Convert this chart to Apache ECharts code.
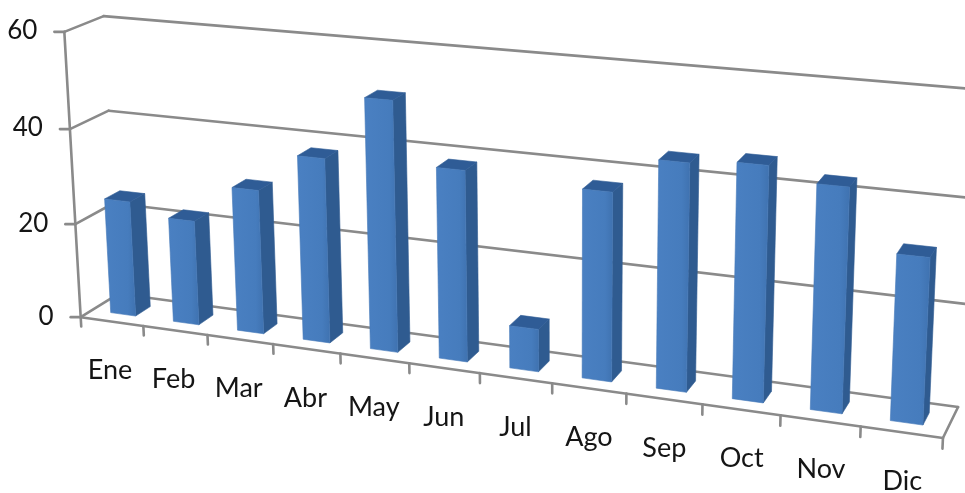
<!DOCTYPE html>
<html><head><meta charset="utf-8">
<style>html,body{margin:0;padding:0;background:#fff}#c{width:965px;height:493px}</style>
<script src="https://cdn.jsdelivr.net/npm/echarts@6/dist/echarts.min.js"></script>
</head><body><div id="c"></div>
<script>
const months = ['Ene','Feb','Mar','Abr','May','Jun','Jul','Ago','Sep','Oct','Nov','Dic'];
const values = [24.5,22,30,38,51,38.6,8.6,37.4,44.5,45.5,43,31.6];
const yTicks = [0,20,40,60];

// Camera of the tilted 3D box: frame anchors (u along months, d depth, v height) -> screen
const anchors = [
 [0,0,0,80,317],[1,0,0,943,438],[0,1,0,119,294],[1,1,0,958,407],
 [0,1,1,103,16],[1,1,1,973,89],[0,0,1,65,32]
];
function solveCamera(pts){
  const rows=[],rhs=[];
  pts.forEach(([u,d,v,x0,y0])=>{
    const x=x0/1000,y=y0/1000;
    rows.push([u,d,v,1,0,0,0,0,-x*u,-x*d,-x*v]);rhs.push(x);
    rows.push([0,0,0,0,u,d,v,1,-y*u,-y*d,-y*v]);rhs.push(y);
  });
  const n=11,M=[];
  for(let i=0;i<n;i++){M.push(new Array(n+1).fill(0));
    for(let j=0;j<n;j++)rows.forEach(r=>M[i][j]+=r[i]*r[j]);
    rows.forEach((r,k)=>M[i][n]+=r[i]*rhs[k]);
    M[i][i]+=1e-9;}
  for(let i=0;i<n;i++){let b=i;for(let k=i+1;k<n;k++)if(Math.abs(M[k][i])>Math.abs(M[b][i]))b=k;
    [M[i],M[b]]=[M[b],M[i]];
    for(let k=0;k<n;k++){if(k===i)continue;const f=M[k][i]/M[i][i];for(let j=i;j<=n;j++)M[k][j]-=f*M[i][j];}}
  return M.map((r,i)=>r[n]/r[i]);
}
const P=solveCamera(anchors);
function proj(u,d,v){
  const w=P[8]*u+P[9]*d+P[10]*v+1;
  return [1000*(P[0]*u+P[1]*d+P[2]*v+P[3])/w,1000*(P[4]*u+P[5]*d+P[6]*v+P[7])/w];
}
const lineStyle={stroke:'#8a8a8a',lineWidth:2.6,lineCap:'round',lineJoin:'round'};
const line=(a,b)=>({type:'line',shape:{x1:a[0],y1:a[1],x2:b[0],y2:b[1]},style:lineStyle});
const poly=(pts,fill,edge)=>({type:'polygon',shape:{points:pts},style:{fill:fill,stroke:edge,lineWidth:0.6}});
const frac=(cs,pt)=>[(pt[0]-cs.x)/cs.width,(cs.y+cs.height-pt[1])/cs.height];

function renderWall(params,api){
  const cs=params.coordSys,val=api.value(1),v=frac(cs,api.coord([0,val]))[1];
  const p=proj(0,0,v);
  const kids=[line(p,proj(0,1,v)),line(proj(0,1,v),proj(val===0?1:1.02,1,v)),line(p,[p[0]-10,p[1]])];
  kids.push({type:'text',style:{text:String(val),x:p[0]-27,y:p[1]-1,align:'right',verticalAlign:'middle',font:'26px Lato',fill:'#151515'}});
  return {type:'group',children:kids};
}
function renderFloor(params,api){
  const cs=params.coordSys,i=api.value(0);
  const band=api.size([1,0])[0]/cs.width;
  const uc=frac(cs,api.coord([i,0]))[0],u1=uc+band/2;
  const kids=[line(proj(u1,0,0),proj(u1,0,-0.034))];
  if(i===0){kids.push(line(proj(0,0,0),proj(1,0,0)),line(proj(1,0,0),proj(1,1,0)),line(proj(0,0,0),proj(0,0,-0.034)),line(proj(0,0,1),proj(0,0,0)));}
  const p=proj(uc,0,0);
  kids.push({type:'text',style:{text:api.value(2),x:p[0]-2+3*uc,y:p[1]+49,align:'center',verticalAlign:'middle',font:'27px Lato',fill:'#151515'}});
  return {type:'group',children:kids};
}
function renderBar(params,api){
  const cs=params.coordSys,i=api.value(0);
  const band=api.size([1,0])[0]/cs.width,hw=band*0.2;
  const uc=frac(cs,api.coord([i,0]))[0];
  const h=frac(cs,api.coord([i,api.value(1)]))[1];
  const a=uc-hw,b=uc+hw,d0=0.3,d1=0.7;
  const f=[proj(a,d0,0),proj(b,d0,0),proj(b,d0,h),proj(a,d0,h)];
  const s=[proj(b,d0,0),proj(b,d1,0),proj(b,d1,h),proj(b,d0,h)];
  const t=[proj(a,d0,h),proj(b,d0,h),proj(b,d1,h),proj(a,d1,h)];
  const grad={type:'linear',x:0,y:0,x2:1,y2:0,colorStops:[{offset:0,color:'#4a80c2'},{offset:0.75,color:'#467cbd'},{offset:1,color:'#3f72b0'}]};
  return {type:'group',children:[poly(s,'#2f5b90','#2f5b90'),poly(t,'#2f5c96','#2f5c96'),poly(f,grad,'#4478b8')]};
}
const chart=echarts.init(document.getElementById('c'),null,{renderer:'canvas'});
chart.setOption({
  animation:false,backgroundColor:'#fff',
  grid:{left:100,right:100,top:50,bottom:50},
  xAxis:{type:'category',data:months,show:false},
  yAxis:{type:'value',min:0,max:60,interval:20,show:false},
  series:[
    {type:'custom',clip:false,z:1,renderItem:renderWall,data:yTicks.map(t=>[0,t])},
    {type:'custom',clip:false,z:2,renderItem:renderFloor,data:months.map((m,i)=>[i,0,m])},
    {type:'custom',clip:false,z:3,renderItem:renderBar,data:values.map((v,i)=>[i,v])}
  ]
});
</script></body></html>
